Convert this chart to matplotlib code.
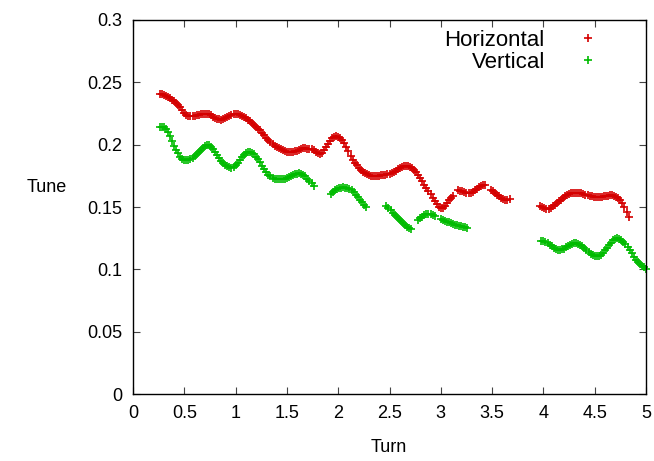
import matplotlib
matplotlib.use("Agg")
import matplotlib.pyplot as plt
import numpy as np

plt.rcParams['font.family'] = ['Liberation Sans', 'DejaVu Sans']

# tune measurements, sampled every 0.02 turn; each segment = (first turn, values)
step = 0.02

horizontal = [
    (0.26, [0.2410, 0.2405, 0.2400, 0.2392, 0.2385, 0.2375, 0.2362, 0.2348, 0.2333, 0.2317,
            0.2300, 0.2275, 0.2252, 0.2240, 0.2233, 0.2230, 0.2230, 0.2231, 0.2234, 0.2238,
            0.2243, 0.2247, 0.2250, 0.2250, 0.2245, 0.2236, 0.2225, 0.2215, 0.2207, 0.2202,
            0.2200, 0.2203, 0.2210, 0.2220, 0.2230, 0.2238, 0.2243, 0.2245, 0.2245, 0.2240,
            0.2232, 0.2222, 0.2212, 0.2200, 0.2187, 0.2172, 0.2157, 0.2142, 0.2128, 0.2115,
            0.2097, 0.2077, 0.2056, 0.2035, 0.2018, 0.2003, 0.1990, 0.1980, 0.1972, 0.1965,
            0.1957, 0.1950, 0.1945, 0.1941, 0.1940, 0.1942, 0.1947, 0.1953, 0.1960, 0.1966,
            0.1970, 0.1970, 0.1969, 0.1967, 0.1963, 0.1955, 0.1943, 0.1932, 0.1925, 0.1935,
            0.1955, 0.1980, 0.2008, 0.2032, 0.2052, 0.2065, 0.2070, 0.2065, 0.2052, 0.2035,
            0.2015, 0.1985, 0.1950, 0.1912, 0.1880, 0.1855, 0.1835, 0.1815, 0.1798, 0.1783,
            0.1772, 0.1763, 0.1756, 0.1752, 0.1750, 0.1750, 0.1750, 0.1751, 0.1753, 0.1756,
            0.1759, 0.1763, 0.1767, 0.1773, 0.1780, 0.1790, 0.1802, 0.1813, 0.1822, 0.1828,
            0.1830, 0.1828, 0.1822, 0.1815, 0.1800, 0.1780, 0.1755, 0.1730, 0.1705, 0.1678,
            0.1652, 0.1627, 0.1602, 0.1575, 0.1548, 0.1522, 0.1500, 0.1490, 0.1495, 0.1510,
            0.1530, 0.1555, 0.1575, 0.1592]),
    (3.17, [0.1635, 0.1632, 0.1625, 0.1618, 0.1612, 0.1610, 0.1614, 0.1622, 0.1635, 0.1648,
            0.1658, 0.1667, 0.1675, 0.1680]),
    (3.49, [0.1640, 0.1628, 0.1613, 0.1598, 0.1585, 0.1573, 0.1565, 0.1560, 0.1560, 0.1563]),
    (3.97, [0.1505, 0.1498, 0.1490, 0.1485, 0.1487, 0.1494, 0.1505, 0.1518, 0.1532, 0.1546,
            0.1560, 0.1573, 0.1586, 0.1597, 0.1605, 0.1610, 0.1614, 0.1615, 0.1615, 0.1612,
            0.1609, 0.1605, 0.1600, 0.1596, 0.1591, 0.1587, 0.1583, 0.1580, 0.1579, 0.1580,
            0.1582, 0.1585, 0.1589, 0.1592, 0.1595, 0.1594, 0.1590, 0.1583, 0.1572, 0.1555,
            0.1530, 0.1500, 0.1460, 0.1420]),
]

vertical = [
    (0.26, [0.2145, 0.2142, 0.2138, 0.2125, 0.2100, 0.2068, 0.2030, 0.1993, 0.1960, 0.1930,
            0.1905, 0.1888, 0.1880, 0.1878, 0.1880, 0.1887, 0.1897, 0.1910, 0.1925, 0.1942,
            0.1960, 0.1977, 0.1990, 0.1997, 0.1995, 0.1985, 0.1967, 0.1945, 0.1920, 0.1895,
            0.1870, 0.1850, 0.1835, 0.1825, 0.1817, 0.1815, 0.1820, 0.1835, 0.1855, 0.1880,
            0.1902, 0.1920, 0.1933, 0.1940, 0.1940, 0.1935, 0.1922, 0.1903, 0.1882, 0.1857,
            0.1830, 0.1805, 0.1780, 0.1760, 0.1745, 0.1735, 0.1728, 0.1725, 0.1724, 0.1724,
            0.1725, 0.1728, 0.1732, 0.1738, 0.1745, 0.1753, 0.1762, 0.1768, 0.1770, 0.1768,
            0.1760, 0.1745, 0.1728, 0.1710, 0.1690, 0.1665]),
    (1.93, [0.1605, 0.1622, 0.1637, 0.1647, 0.1653, 0.1656, 0.1658, 0.1656, 0.1652, 0.1645,
            0.1633, 0.1618, 0.1600, 0.1580, 0.1560, 0.1540, 0.1520, 0.1500]),
    (2.47, [0.1505, 0.1488, 0.1472, 0.1455, 0.1438, 0.1422, 0.1405, 0.1388, 0.1372, 0.1355,
            0.1342, 0.1332, 0.1325]),
    (2.78, [0.1395, 0.1410, 0.1423, 0.1434, 0.1440, 0.1443, 0.1441, 0.1436, 0.1430]),
    (3.00, [0.1405, 0.1395, 0.1388, 0.1382, 0.1376, 0.1370, 0.1364, 0.1359, 0.1355, 0.1351,
            0.1347, 0.1343, 0.1339, 0.1335]),
    (3.98, [0.1225, 0.1226, 0.1220, 0.1210, 0.1198, 0.1186, 0.1175, 0.1165, 0.1159, 0.1157,
            0.1160, 0.1167, 0.1178, 0.1190, 0.1199, 0.1205, 0.1209, 0.1210, 0.1206, 0.1197,
            0.1185, 0.1170, 0.1154, 0.1138, 0.1125, 0.1114, 0.1107, 0.1105, 0.1108, 0.1118,
            0.1133, 0.1152, 0.1172, 0.1193, 0.1213, 0.1232, 0.1245, 0.1249, 0.1246, 0.1237,
            0.1222, 0.1203, 0.1180, 0.1155, 0.1128, 0.1100, 0.1077, 0.1058, 0.1042, 0.1030,
            0.1018, 0.1005]),
]


def to_xy(segments):
    xs, ys = [], []
    for start, vals in segments:
        xs.extend(start + step * np.arange(len(vals)))
        ys.extend(vals)
    return np.array(xs), np.array(ys)


fig = plt.figure(figsize=(6.54, 4.61), dpi=100)
ax = fig.add_axes([133 / 654, 1 - 394 / 461, 513 / 654, 374 / 461])

hx, hy = to_xy(horizontal)
vx, vy = to_xy(vertical)
ax.plot(hx, hy, '+', color='#d40000', ms=6, mew=1.2, label='Horizontal', clip_on=False)
ax.plot(vx, vy, '+', color='#00bb00', ms=6, mew=1.2, label='Vertical', clip_on=False)

ax.set_xlim(0, 5)
ax.set_ylim(0, 0.3)
ax.set_xticks(np.arange(0, 5.01, 0.5))
ax.set_xticklabels(['0', '0.5', '1', '1.5', '2', '2.5', '3', '3.5', '4', '4.5', '5'])
ax.set_yticks(np.arange(0, 0.301, 0.05))
ax.set_yticklabels(['0', '0.05', '0.1', '0.15', '0.2', '0.25', '0.3'])
ax.tick_params(direction='in', length=5, width=0.8, top=True, right=True,
               labelsize=13, pad=8, color='#444444')
for s in ax.spines.values():
    s.set_linewidth(1.0)

ax.set_xlabel('Turn', fontsize=13)
ax.xaxis.set_label_coords(0.499, -0.142)
ax.xaxis.label.set_va('center')
ax.set_ylabel('Tune', fontsize=13, rotation=0)
ax.yaxis.set_label_coords(-0.168, 0.553)
ax.yaxis.label.set_va('center')
ax.yaxis.label.set_ha('center')

ax.legend(loc='upper right', bbox_to_anchor=(0.9129, 0.9733), frameon=False,
          markerfirst=False, fontsize=16, handlelength=1.2, handletextpad=1.34,
          borderpad=0, borderaxespad=0, labelspacing=0.05)

fig.savefig('out.png', dpi=100)
